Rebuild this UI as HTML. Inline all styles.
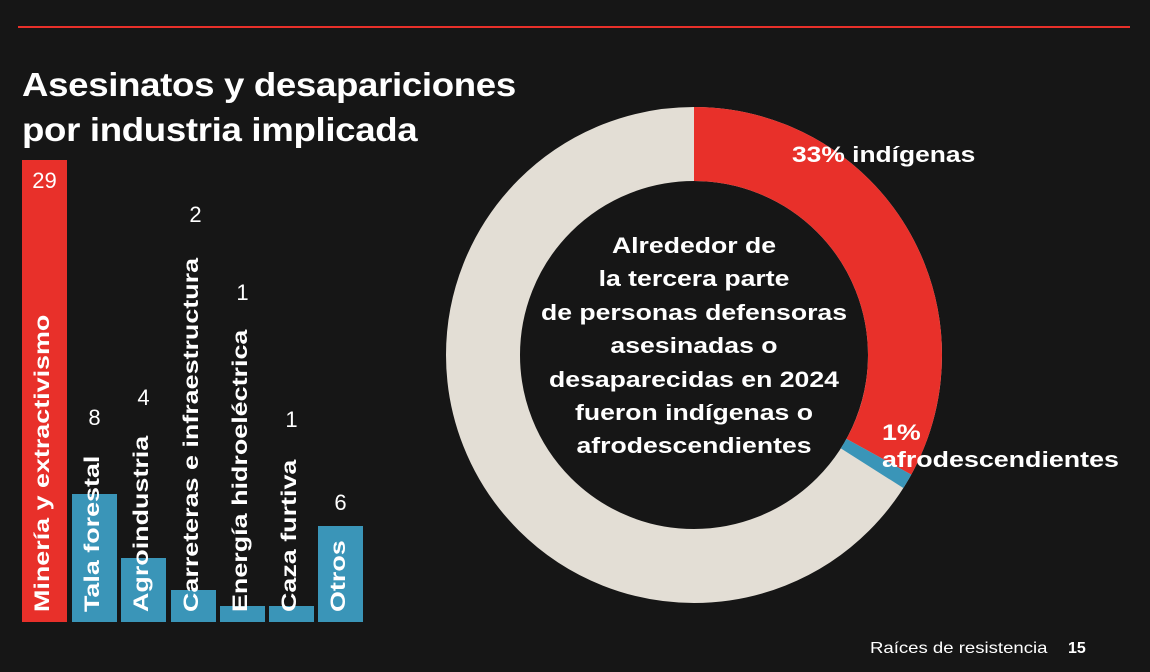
<!DOCTYPE html>
<html><head><meta charset="utf-8"><style>
html,body{margin:0;padding:0;background:#161616;}
body{width:1150px;height:672px;position:relative;overflow:hidden;font-family:"Liberation Sans",sans-serif;color:#fff;}
.line{position:absolute;left:18px;top:26px;width:1112px;height:2px;background:#e8302a;}
.title{position:absolute;left:22px;top:62px;font-size:33px;font-weight:bold;line-height:45px;letter-spacing:-0.3px;white-space:nowrap;transform-origin:0 0;transform:scaleX(1.11);}
.bar{position:absolute;bottom:50px;width:45px;}
.num{position:absolute;font-size:22px;width:45px;text-align:center;}
.lab{position:absolute;font-size:21px;font-weight:bold;white-space:nowrap;transform-origin:0 0;transform:rotate(-90deg) scaleX(1.28);}
.foot{position:absolute;top:640px;font-size:15px;}
</style></head><body>
<div class="line"></div>
<div class="title">Asesinatos y desapariciones<br>por industria implicada</div>

<div class="bar" style="left:22px;top:160px;background:#e8302a"></div>
<div class="bar" style="left:72px;top:494px;background:#3a95b8"></div>
<div class="bar" style="left:121px;top:558px;background:#3a95b8"></div>
<div class="bar" style="left:171px;top:590px;background:#3a95b8"></div>
<div class="bar" style="left:220px;top:606px;background:#3a95b8"></div>
<div class="bar" style="left:269px;top:606px;background:#3a95b8"></div>
<div class="bar" style="left:318px;top:526px;background:#3a95b8"></div>

<div class="num" style="left:22px;top:168px">29</div>
<div class="num" style="left:72px;top:405px">8</div>
<div class="num" style="left:121px;top:385px">4</div>
<div class="num" style="left:173px;top:202px">2</div>
<div class="num" style="left:220px;top:280px">1</div>
<div class="num" style="left:269px;top:407px">1</div>
<div class="num" style="left:318px;top:490px">6</div>

<div class="lab" style="left:31px;top:612px">Minería y extractivismo</div>
<div class="lab" style="left:81px;top:612px">Tala forestal</div>
<div class="lab" style="left:130px;top:612px">Agroindustria</div>
<div class="lab" style="left:180px;top:612px">Carreteras e infraestructura</div>
<div class="lab" style="left:229px;top:612px">Energía hidroeléctrica</div>
<div class="lab" style="left:278px;top:612px">Caza furtiva</div>
<div class="lab" style="left:327px;top:612px">Otros</div>

<svg style="position:absolute;left:0;top:0" width="1150" height="672">
<circle cx="694" cy="355" r="211" fill="none" stroke="#e3ded5" stroke-width="74"/>
<circle cx="694" cy="355" r="211" fill="none" stroke="#e8302a" stroke-width="74"
 stroke-dasharray="437.5 2000" transform="rotate(-90 694 355)"/>
<circle cx="694" cy="355" r="211" fill="none" stroke="#3a95b8" stroke-width="74"
 stroke-dasharray="0 437.5 13.3 2000" transform="rotate(-90 694 355)"/>
<g font-family="Liberation Sans,sans-serif" font-weight="bold" font-size="22" fill="#fff" text-anchor="middle" transform="translate(694 0) scale(1.21 1) translate(-694 0)">
<text x="694" y="253">Alrededor de</text>
<text x="694" y="286">la tercera parte</text>
<text x="694" y="320">de personas defensoras</text>
<text x="694" y="353">asesinadas o</text>
<text x="694" y="387">desaparecidas en 2024</text>
<text x="694" y="420">fueron indígenas o</text>
<text x="694" y="453">afrodescendientes</text>
</g>
<g font-family="Liberation Sans,sans-serif" font-weight="bold" font-size="22" fill="#fff">
<text x="792" y="162" transform="translate(792 0) scale(1.2 1) translate(-792 0)">33% indígenas</text>
<text x="882" y="440" transform="translate(882 0) scale(1.22 1) translate(-882 0)">1%</text>
<text x="882" y="467" transform="translate(882 0) scale(1.22 1) translate(-882 0)">afrodescendientes</text>
</g>
</svg>
<div class="foot" style="left:870px;font-size:16px;transform-origin:0 0;transform:scaleX(1.16);white-space:nowrap">Raíces de resistencia</div>
<div class="foot" style="left:1068px;font-weight:bold;font-size:16px">15</div>
</body></html>
